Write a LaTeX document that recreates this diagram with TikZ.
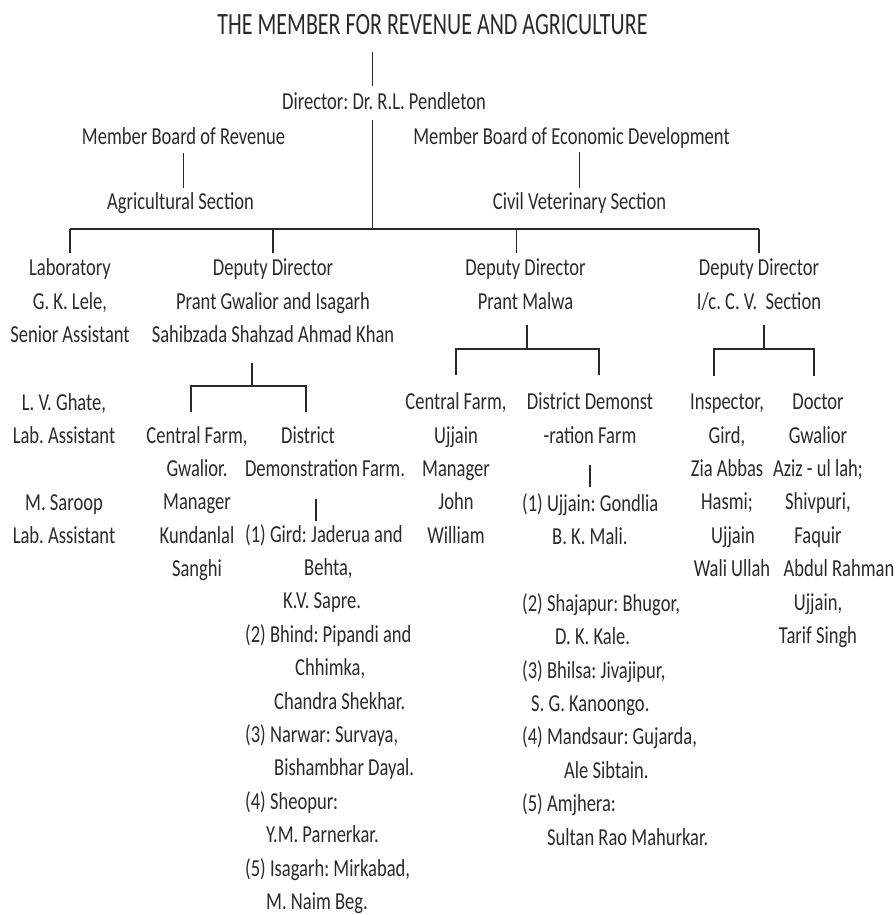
\documentclass[tikz,border=0pt]{standalone}
\usepackage{fontspec}
\setmainfont{Carlito}[FakeStretch=0.76]
\newfontfamily\titlefam{Carlito}[FakeStretch=0.71]
\definecolor{ink}{HTML}{2A2A2A}
\newcommand{\bodyfont}{\fontsize{24.4}{33.4}\selectfont\frenchspacing}
\newcommand{\titlefont}{\titlefam\fontsize{31}{36}\selectfont}

\begin{document}
\begin{tikzpicture}[x=1pt, y=-1pt,
  txt/.style={inner sep=0pt, anchor=base, align=center, font=\bodyfont, text=ink},
  lst/.style={txt, anchor=base west, align=left},
  link/.style={draw=ink, line width=1.1pt},
  bar/.style={draw=ink, line width=1.8pt}]
\useasboundingbox (0,0) rectangle (896,915);

% nodes sit on the baseline of their last line
\node[txt, font=\titlefont] (title) at (432.5,35) {THE MEMBER FOR REVENUE AND AGRICULTURE};
\node[txt] (director) at (384,110) {Director: Dr. R.L. Pendleton};
\node[txt] (mbr) at (183.5,144) {Member Board of Revenue};
\node[txt] (agri) at (180.5,209) {Agricultural Section};
\node[txt] (mbed) at (571.5,144) {Member Board of Economic Development};
\node[txt] (civ) at (579.5,209) {Civil Veterinary Section};
\coordinate (hub) at (372.7,229);

\node[txt] (lab) at (70,342.5) {Laboratory\\G. K. Lele,\\Senior Assistant};
\node[txt] (asst) at (64,543.6) {L. V. Ghate,\\Lab. Assistant\\[33.4pt]M. Saroop\\Lab. Assistant};
\node[txt] (ddg) at (273,342.5) {Deputy Director\\Prant Gwalior and Isagarh\\Sahibzada Shahzad Ahmad Khan};
\node[txt] (ddm) at (525.5,309.1) {Deputy Director\\Prant Malwa};
\node[txt] (ddc) at (759,309.1) {Deputy Director\\I/c. C. V.\ \ Section};

% Prant Gwalior and Isagarh
\node[txt] (cfg) at (197,576.6) {Central Farm,\\Gwalior.\\Manager\\Kundanlal\\Sanghi};
\node[txt] (ddf) at (316,476.4) {District\hspace*{16pt}\\\hspace*{18pt}Demonstration Farm.};
\node[lst] (gl) at (245,909.5) {(1) Gird: Jaderua and\\
  \hspace*{59pt}Behta,\\
  \hspace*{38pt}K.V. Sapre.\\
  (2) Bhind: Pipandi and\\
  \hspace*{50pt}Chhimka,\\
  \hspace*{29pt}Chandra Shekhar.\\
  (3) Narwar: Survaya,\\
  \hspace*{29pt}Bishambhar Dayal.\\
  (4) Sheopur:\\
  \hspace*{21pt}Y.M. Parnerkar.\\
  (5) Isagarh: Mirkabad,\\
  \hspace*{21pt}M. Naim Beg.};

% Prant Malwa
\node[txt] (cfm) at (456,543.3) {Central Farm,\\Ujjain\\Manager\\John\\William};
\node[txt] (ddfm) at (590,443.1) {District Demonst\\-ration Farm};
\node[lst] (ml) at (522,845) {(1) Ujjain: Gondlia\\
  \hspace*{30pt}B. K. Mali.\\[33.4pt]
  (2) Shajapur: Bhugor,\\
  \hspace*{33pt}D. K. Kale.\\
  (3) Bhilsa: Jivajipur,\\
  \hspace*{9pt}S. G. Kanoongo.\\
  (4) Mandsaur: Gujarda,\\
  \hspace*{42pt}Ale Sibtain.\\
  (5) Amjhera:\\
  \hspace*{25pt}Sultan Rao Mahurkar.};

% C. V. Section
\node[txt] (insp) at (727,576.7) {Inspector,\\Gird,\\Zia Abbas\\Hasmi;\\\hspace*{12pt}Ujjain\\\hspace*{10pt}Wali Ullah};
\node[txt] (doc) at (818,643.5) {Doctor\\Gwalior\\Aziz - ul lah;\\Shivpuri,\\Faquir\\\hspace*{42pt}Abdul Rahman\\Ujjain,\\Tarif Singh};

% spine
\draw[link, shorten <=17pt, shorten >=7pt] (title.south -| hub) -- (director.north -| hub);
\draw[link, shorten <=9.6pt] (director.south -| hub) -- (hub);
\draw[link, shorten <=9pt, shorten >=4pt] (mbr.south) -- (mbr.south |- agri.north);
\draw[link, shorten <=3.6pt, shorten >=4pt] (civ.north |- mbed.south) -- (civ.north);

\draw[bar] (lab.north |- hub) -- (ddc.north |- hub);
\foreach \n/\dx in {lab/0,ddg/0,ddm/-9,ddc/0}
  \draw[link, shorten >=5.7pt] (\n.north |- hub) ++(\dx,0) -- ([xshift=\dx]\n.north);

% forks
\coordinate (gj) at (252,386);
\draw[link, shorten <=20pt] (ddg.south -| gj) -- (gj);
\draw[link, shorten <=14pt, shorten >=14pt] ([xshift=-6]cfg.north) |- (gj) -| ([xshift=-10]ddf.north);
\draw[link, shorten <=22pt, shorten >=3pt] (ddf.south) -- (ddf.south |- gl.north);

\coordinate (mj) at (527,349);
\draw[link, shorten <=16pt] (ddm.south -| mj) -- (mj);
\draw[link, shorten <=18pt, shorten >=18pt] (cfm.north) |- (mj) -| ([xshift=9]ddfm.north);
\draw[link, shorten <=22pt, shorten >=6pt] (ddfm.south) -- (ddfm.south |- ml.north);

\coordinate (cj) at (764,349);
\draw[link, shorten <=15pt] (ddc.south -| cj) -- (cj);
\draw[link, shorten <=18pt, shorten >=18pt] ([xshift=-13]insp.north) |- (cj) -| ([xshift=-4]doc.north);
\end{tikzpicture}
\end{document}
